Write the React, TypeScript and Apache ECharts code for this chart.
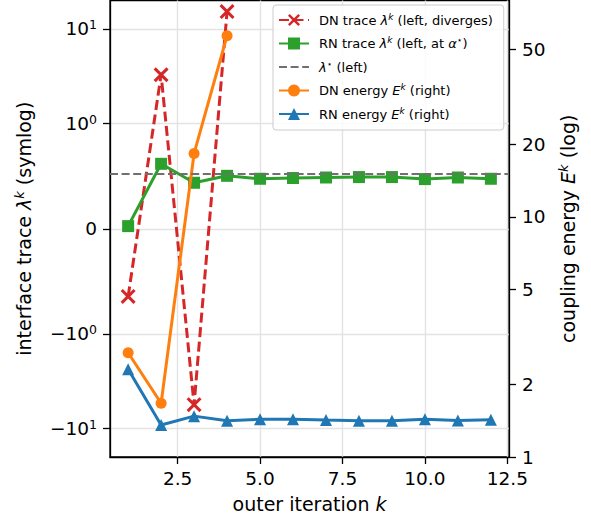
import React, { useEffect, useRef } from "react";
import * as echarts from "echarts";

// ---- data ----
const iterations = [1, 2, 3, 4, 5, 6, 7, 8, 9, 10, 11, 12];
const dnIterations = [1, 2, 3, 4];
const dnTrace = [-0.643, 3.27, -5.58, 15.2];
const rnTrace = [0.025, 0.617, 0.437, 0.503, 0.475, 0.482, 0.487, 0.491, 0.491, 0.472, 0.487, 0.475];
const lambdaStar = 0.525;
const dnEnergy = [2.72, 1.674, 18.4, 56.9];
const rnEnergy = [2.32, 1.36, 1.48, 1.417, 1.436, 1.436, 1.426, 1.417, 1.417, 1.436, 1.42, 1.43];
const xTicks = [2.5, 5, 7.5, 10, 12.5];
const leftTicks = [-10, -1, 0, 1, 10];
const rightTicks = [1, 2, 5, 10, 20, 50];

const FONT = "DejaVu Sans";
const LINSCALE = 1 / (1 - 1 / 10); // matplotlib symlog (linthresh=1, linscale=1, base=10)

function symlog(v: number): number {
  const a = Math.abs(v);
  const s = Math.sign(v);
  if (a <= 1) return s * a * LINSCALE;
  return s * (LINSCALE + Math.log10(a));
}

function leftLabel(t: number): string {
  let best = leftTicks[0];
  let bd = Infinity;
  for (const v of leftTicks) {
    const d = Math.abs(symlog(v) - t);
    if (d < bd) { bd = d; best = v; }
  }
  if (best === 0) return "{b|0}";
  const exp = Math.round(Math.log10(Math.abs(best)));
  return (best < 0 ? "{b|\u221210}" : "{b|10}") + "{s|" + exp + "}";
}

const X_PATH =
  "path://M0.8485,-0.8485L10.8485,9.1515L9.1515,10.8485L-0.8485,0.8485Z" +
  "M10.8485,0.8485L0.8485,10.8485L-0.8485,9.1515L9.1515,-0.8485Z";

const legendLabels: Record<string, string> = {
  "DN trace": "DN trace {i|\u03bb}{s|k} (left, diverges)",
  "RN trace": "RN trace {i|\u03bb}{s|k} (left, at {i|\u03b1}{t|\u22c6})",
  "lambda star": "{i|\u03bb}{t|\u22c6} (left)",
  "DN energy": "DN energy {i|E}{s|k} (right)",
  "RN energy": "RN energy {i|E}{s|k} (right)",
};

export default function App() {
  const ref = useRef<HTMLDivElement>(null);

  useEffect(() => {
    if (!ref.current) return;
    const chart = echarts.init(ref.current, undefined, { renderer: "svg" });

    const tickFont = 18.5;
    const axisRich = {
      b: { fontSize: tickFont, fontFamily: FONT, color: "#000", lineHeight: 22 },
      s: { fontSize: 12.5, fontFamily: FONT, color: "#000", lineHeight: 14, verticalAlign: "top" },
    };
    const nameRich = {
      i: { fontSize: 19, fontFamily: FONT, fontStyle: "italic", color: "#000", lineHeight: 22 },
      s: { fontSize: 13, fontFamily: FONT, fontStyle: "italic", color: "#000", lineHeight: 14, verticalAlign: "top" },
    };

    const option: any = {
      animation: false,
      backgroundColor: "#fff",
      textStyle: { fontFamily: FONT },
      grid: {
        left: 110,
        right: 82,
        top: 0.5,
        bottom: 65,
        show: true,
        borderColor: "#000",
        borderWidth: 1.3,
        backgroundColor: "transparent",
      },
      legend: {
        orient: "vertical",
        left: 273,
        top: 5,
        padding: [7, 11, 8, 5],
        itemWidth: 30,
        itemHeight: 15,
        itemGap: 7.5,
        selectedMode: false,
        backgroundColor: "rgba(255,255,255,0.8)",
        borderColor: "#cccccc",
        borderWidth: 1,
        borderRadius: 3,
        data: [
          "DN trace",
          "RN trace",
          { name: "lambda star", itemStyle: { opacity: 0 } },
          "DN energy",
          "RN energy",
        ],
        formatter: (name: string) => legendLabels[name] || name,
        textStyle: {
          fontFamily: FONT,
          fontSize: 13,
          color: "#000",
          lineHeight: 16,
          padding: [0, 0, 0, 5],
          rich: {
            i: { fontFamily: FONT, fontSize: 13, fontStyle: "italic", color: "#000", lineHeight: 16 },
            s: { fontFamily: FONT, fontSize: 9, fontStyle: "italic", color: "#000", lineHeight: 10, verticalAlign: "top" },
            t: { fontFamily: FONT, fontSize: 9, color: "#000", lineHeight: 10, verticalAlign: "top" },
          },
        },
      },
      xAxis: {
        type: "value",
        min: 0.45,
        max: 12.55,
        name: "outer iteration {i|k}",
        nameLocation: "middle",
        nameGap: 35,
        nameTextStyle: { fontSize: 19, fontFamily: FONT, color: "#000", lineHeight: 22, rich: nameRich },
        axisLine: { onZero: false, lineStyle: { color: "#000", width: 1.3 } },
        axisTick: { customValues: xTicks, length: 7, lineStyle: { color: "#000", width: 1.3 } },
        axisLabel: {
          customValues: xTicks,
          formatter: (v: number) => v.toFixed(1),
          fontSize: tickFont,
          fontFamily: FONT,
          color: "#000",
          margin: 12,
        },
        splitLine: { show: true, lineStyle: { color: "#e3e3e3", width: 1.4 } },
      },
      yAxis: [
        {
          type: "value",
          position: "left",
          min: -2.41,
          max: 2.41,
          name: "interface trace {i|\u03bb}{s|k} (symlog)",
          nameLocation: "middle",
          nameGap: 75,
          nameTextStyle: { fontSize: 19, fontFamily: FONT, color: "#000", lineHeight: 22, rich: nameRich },
          axisLine: { show: true, onZero: false, lineStyle: { color: "#000", width: 1.3 } },
          axisTick: { show: true, customValues: leftTicks.map(symlog), length: 7, lineStyle: { color: "#000", width: 1.3 } },
          axisLabel: {
            customValues: leftTicks.map(symlog),
            formatter: (v: number) => leftLabel(v),
            margin: 13,
            rich: axisRich,
          },
          splitLine: { show: true, lineStyle: { color: "#e3e3e3", width: 1.4 } },
        },
        {
          type: "value",
          position: "right",
          min: 0,
          max: 1.902,
          name: "coupling energy {i|E}{s|k} (log)",
          nameLocation: "middle",
          nameGap: 48,
          nameTextStyle: { fontSize: 19, fontFamily: FONT, color: "#000", lineHeight: 22, rich: nameRich },
          axisLine: { show: true, onZero: false, lineStyle: { color: "#000", width: 1.3 } },
          axisTick: { show: true, customValues: rightTicks.map(Math.log10), length: 7, lineStyle: { color: "#000", width: 1.3 } },
          axisLabel: {
            customValues: rightTicks.map(Math.log10),
            formatter: (v: number) => String(Math.round(Math.pow(10, v))),
            fontSize: tickFont,
            fontFamily: FONT,
            color: "#000",
            margin: 13,
          },
          splitLine: { show: false },
        },
      ],
      series: [
        {
          name: "DN trace",
          type: "line",
          yAxisIndex: 0,
          data: dnIterations.map((x, i) => [x, symlog(dnTrace[i])]),
          color: "#d62728",
          symbol: X_PATH,
          symbolSize: 15,
          lineStyle: { width: 3, type: [10, 4.5], color: "#d62728" },
          itemStyle: { color: "#d62728" },
          z: 2,
        },
        {
          name: "RN trace",
          type: "line",
          yAxisIndex: 0,
          data: iterations.map((x, i) => [x, symlog(rnTrace[i])]),
          color: "#2ca02c",
          symbol: "rect",
          symbolSize: 12,
          lineStyle: { width: 3, color: "#2ca02c" },
          itemStyle: { color: "#2ca02c" },
          z: 2,
        },
        {
          name: "lambda star",
          type: "line",
          yAxisIndex: 0,
          data: [],
          color: "#707070",
          symbol: "none",
          lineStyle: { width: 2.2, type: [8, 3.6], color: "#707070" },
          markLine: {
            silent: true,
            symbol: ["none", "none"],
            label: { show: false },
            lineStyle: { width: 2.2, type: [8, 3.6], color: "#707070" },
            data: [{ yAxis: symlog(lambdaStar) }],
          },
          z: 2,
        },
        {
          name: "DN energy",
          type: "line",
          yAxisIndex: 1,
          data: dnIterations.map((x, i) => [x, Math.log10(dnEnergy[i])]),
          color: "#ff7f0e",
          symbol: "circle",
          symbolSize: 11,
          lineStyle: { width: 3, color: "#ff7f0e" },
          itemStyle: { color: "#ff7f0e" },
          z: 3,
        },
        {
          name: "RN energy",
          type: "line",
          yAxisIndex: 1,
          data: iterations.map((x, i) => [x, Math.log10(rnEnergy[i])]),
          color: "#1f77b4",
          symbol: "triangle",
          symbolSize: 12,
          lineStyle: { width: 3, color: "#1f77b4" },
          itemStyle: { color: "#1f77b4" },
          z: 3,
        },
      ],
    };

    chart.setOption(option);
    return () => chart.dispose();
  }, []);

  return (
    <div
      ref={ref}
      style={{ position: "fixed", left: 0, top: 0, width: 591, height: 522, background: "#fff" }}
    />
  );
}
